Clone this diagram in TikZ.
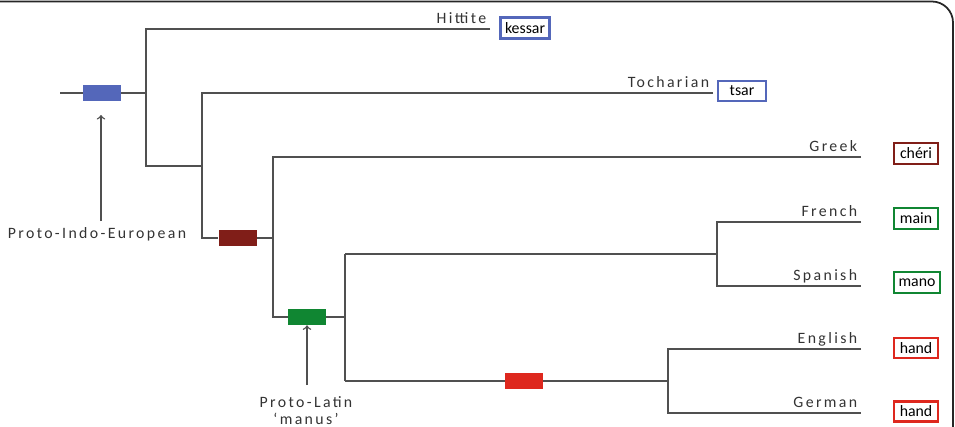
\documentclass[tikz,border=0pt]{standalone}
\usepackage{fontspec}
\setmainfont{Carlito}
\newfontfamily\spacedfont[LetterSpace=15]{Carlito}
\usetikzlibrary{positioning}
\definecolor{pieblue}{RGB}{84,103,186}
\definecolor{grkred}{RGB}{128,30,24}
\definecolor{latgreen}{RGB}{16,134,50}
\definecolor{gmcred}{RGB}{222,40,30}
\definecolor{linegray}{RGB}{80,80,80}

\begin{document}
\begin{tikzpicture}[x=0.02cm, y=-0.02cm,
    branch/.style={draw=linegray, line width=0.8pt},
    lang/.style={font=\spacedfont\fontsize{9}{10}\selectfont, anchor=base east, inner sep=0pt, yshift=3pt, xshift=-2pt, text=black!80},
    change/.style={fill=#1, minimum width=0.76cm, minimum height=0.32cm, inner sep=0pt},
    word/.style={draw=#1, line width=1.3pt, font=\fontsize{9}{10}\selectfont, inner xsep=2.5pt, inner ysep=0pt, minimum width=0.88cm, minimum height=0.42cm}]
    \useasboundingbox (0,0) rectangle (955,426);
    \clip (0,0) rectangle (955,426);
    % Frame
    \draw[line width=1pt, black!85, rounded corners=12] (-20,460) -- (-20,1.5) -- (953,1.5) -- (953,460);

    % Branch points
    \coordinate (r0) at (60,93);
    \coordinate (n1) at (146,93);
    \coordinate (hit0) at (146,29);
    \coordinate (hit1) at (490,29);
    \coordinate (n2) at (146,166);
    \coordinate (toc0) at (202,93);
    \coordinate (toc1) at (713,93);
    \coordinate (n3) at (202,238);
    \coordinate (gre0) at (273,157);
    \coordinate (gre1) at (861,157);
    \coordinate (n4) at (273,317);
    \coordinate (rom0) at (345,254);
    \coordinate (n5) at (345,317);
    \coordinate (gmc0) at (345,381);
    \coordinate (rom1) at (717,254);
    \coordinate (fre0) at (717,222);
    \coordinate (fre1) at (861,222);
    \coordinate (spa0) at (717,286);
    \coordinate (spa1) at (861,286);
    \coordinate (gmc1) at (668,381);
    \coordinate (eng0) at (668,349);
    \coordinate (eng1) at (861,349);
    \coordinate (ger0) at (668,413);
    \coordinate (ger1) at (861,413);

    % Sound changes
    \node[change=pieblue] (pie) at (102,93) {};
    \node[change=grkred] (grk) at (237.5,238) {};
    \node[change=latgreen] (lat) at (307,317) {};
    \node[change=gmcred] (gmc) at (524,381) {};

    % Tree
    \draw[branch] (r0) -- (pie) -- (n1);
    \draw[branch] (hit1) -- (hit0) -- (n2) -- (n2 -| toc0);
    \draw[branch] (toc1) -- (toc0) -- (n3) -- (grk) -- (n3 -| gre0);
    \draw[branch] (gre1) -- (gre0) -- (n4) -- (lat) -- (n5);
    \draw[branch] (rom0) -- (gmc0);
    \draw[branch] (rom0) -- (rom1);
    \draw[branch] (fre1) -- (fre0) -- (spa0) -- (spa1);
    \draw[branch] (gmc0) -- (gmc) -- (gmc1);
    \draw[branch] (eng1) -- (eng0) -- (ger0) -- (ger1);

    % Languages
    \node[lang] (hitname) at (hit1) {Hittite};
    \node[lang] (tocname) at (toc1) {Tocharian};
    \node[lang] (grename) at (gre1) {Greek};
    \node[lang] (frename) at (fre1) {French};
    \node[lang] (spaname) at (spa1) {Spanish};
    \node[lang] (engname) at (eng1) {English};
    \node[lang] (gername) at (ger1) {German};

    % Words for 'hand'
    \node[word=pieblue] (kessar) at (525,28) {kessar};
    \node[word=pieblue, minimum width=0.96cm, minimum height=0.4cm] (tsar) at (742,91) {tsar};
    \node[word=grkred] (cheri) at (916,153.5) {chéri};
    \node[word=latgreen] (main) at (916,218.5) {main};
    \node[word=latgreen] (mano) at (917,282.5) {mano};
    \node[word=gmcred, minimum height=0.4cm] (hand1) at (916,348) {hand};
    \node[word=gmcred, minimum height=0.4cm] (hand2) at (916,411.5) {hand};

    % Proto-languages
    \node[font=\spacedfont\fontsize{9}{10}\selectfont, text=black!80, inner sep=1pt] (piename) at (97,234) {Proto-Indo-European};
    \node[font=\spacedfont\fontsize{9}{10}\selectfont, text=black!80, align=center, inner sep=1pt, anchor=north] (latname) at (306,394) {Proto-Latin\\‘manus’};
    \draw[->, line width=0.8pt, linegray] (101,221) -- (101,115);
    \draw[->, line width=0.8pt, linegray] (latname.north -| lat) ++(0,-9) -- (lat.south);
\end{tikzpicture}
\end{document}
